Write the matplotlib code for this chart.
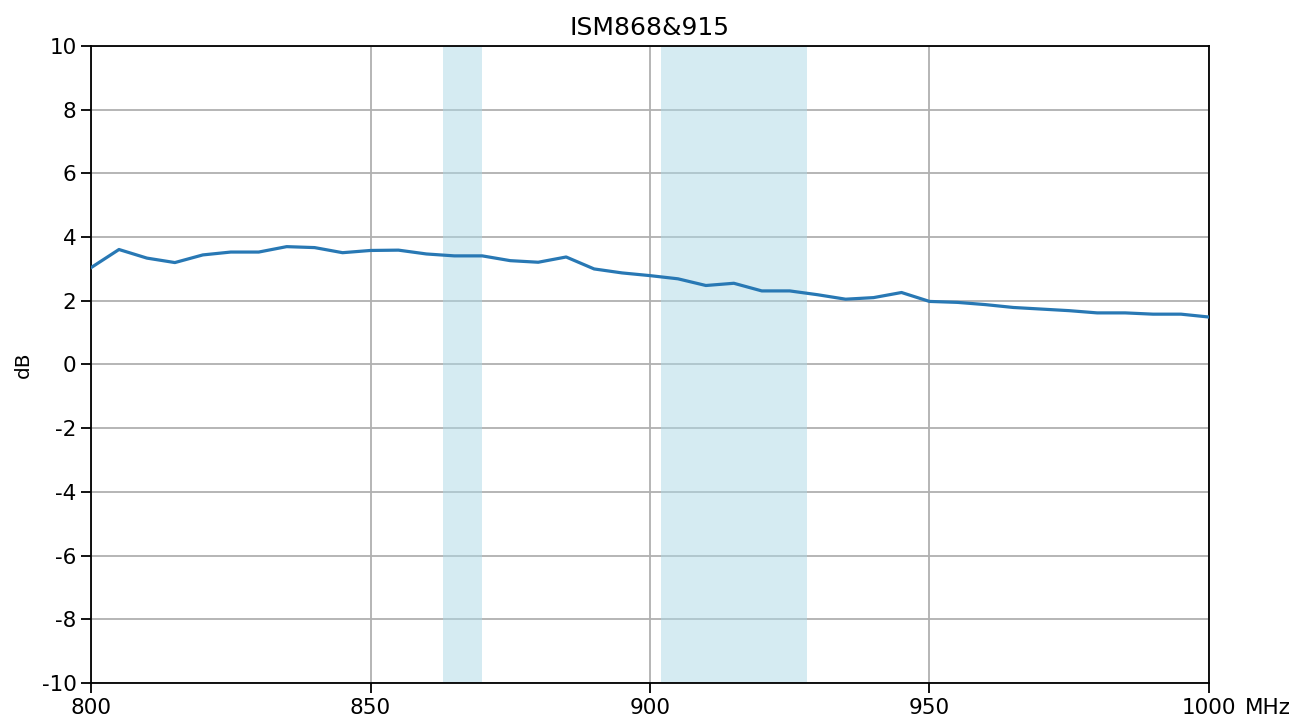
import matplotlib
matplotlib.use("Agg")
import matplotlib.pyplot as plt
import numpy as np

plt.rcParams["axes.unicode_minus"] = False

freq_mhz = list(range(800, 1001, 5))
gain_db = [3.04, 3.61, 3.34, 3.20, 3.44, 3.53, 3.53, 3.70, 3.67, 3.51,
           3.58, 3.59, 3.47, 3.41, 3.41, 3.26, 3.21, 3.375, 3.00, 2.875,
           2.79, 2.69, 2.48, 2.55, 2.31, 2.31, 2.19, 2.05, 2.10, 2.26,
           1.98, 1.95, 1.88, 1.79, 1.74, 1.69, 1.62, 1.62, 1.58, 1.58, 1.49]
bands = [(863, 870), (902, 928)]
title = "ISM868&915"
x_ticks = [800, 850, 900, 950, 1000]
y_ticks = list(range(-10, 11, 2))

fig = plt.figure(figsize=(13.06, 7.25), dpi=100)
ax = fig.add_axes([0.0697, 0.0579, 0.8560, 0.8787])

for lo, hi in bands:
    ax.axvspan(lo, hi, color="lightblue", alpha=0.5, lw=0, zorder=1)

ax.plot(freq_mhz, gain_db, color="#2878b4", lw=2.3, zorder=3)

ax.set_xlim(800, 1000)
ax.set_ylim(-10, 10)
ax.set_xticks(x_ticks)
ax.set_yticks(y_ticks)
ax.grid(True, color="#b0b0b0", lw=1.3, zorder=0)
ax.set_axisbelow(True)
ax.tick_params(labelsize=15.5, length=7, width=1.3)
for s in ax.spines.values():
    s.set_linewidth(1.3)
ax.set_title(title, fontsize=18, pad=8)
ax.set_ylabel("dB", fontsize=14.5, labelpad=6)

ax.annotate("MHz", xy=(1, 0), xycoords="axes fraction", xytext=(26, -11),
            textcoords="offset points", fontsize=15.5, ha="left", va="top")

fig.savefig("out.png", dpi=100)
